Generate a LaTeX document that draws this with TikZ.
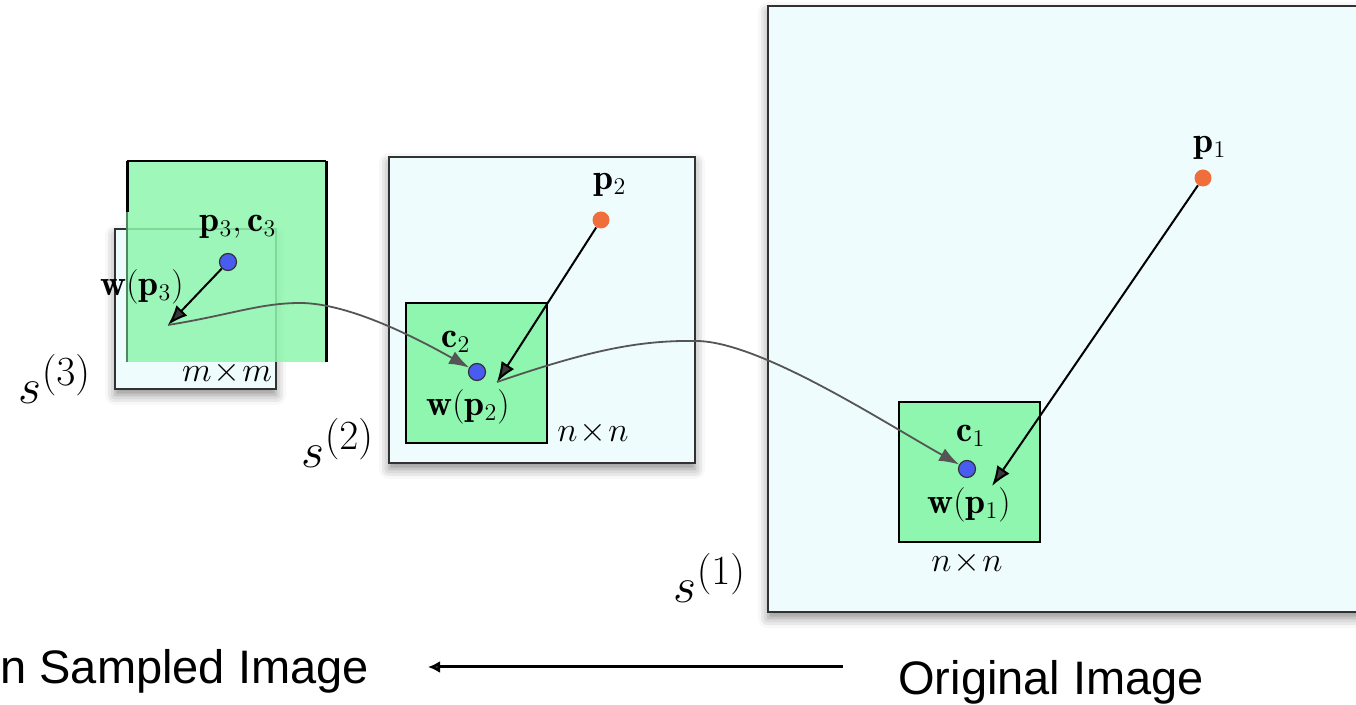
\documentclass[tikz,border=0pt]{standalone}
\usepackage{amsmath,amssymb}
\usepackage{fontspec}
\newfontfamily\arialfont{Liberation Sans}
\usepackage{xcolor}
\usetikzlibrary{arrows.meta,shadows.blur}

\definecolor{imgbg}{RGB}{238,252,254}
\definecolor{patchgreen}{RGB}{142,246,174}
\definecolor{ptblue}{RGB}{72,92,240}
\definecolor{ptorange}{RGB}{240,110,60}
\definecolor{flowgray}{RGB}{85,85,85}
\definecolor{framegray}{RGB}{50,50,50}

\begin{document}
\begin{tikzpicture}[x=0.5pt,y=-0.5pt,
  imgbox/.style={draw=framegray,line width=1pt,fill=imgbg,
    blur shadow={shadow xshift=0pt,shadow yshift=-3pt,shadow blur radius=5pt,shadow opacity=45}},
  patch/.style={draw=black,line width=0.8pt,fill=patchgreen},
  cdot/.style={circle,draw=black!80,line width=0.6pt,fill=ptblue,inner sep=0pt,minimum size=8.5pt},
  pdot/.style={circle,fill=ptorange,inner sep=0pt,minimum size=8.5pt},
  warp/.style={line width=1pt,-{Latex[length=10pt,width=7.5pt]}},
  flow/.style={flowgray,line width=0.9pt,-{Latex[length=10pt,width=7pt]}},
  lbl/.style={inner sep=0pt,font=\fontsize{18}{20}\selectfont},
  scalelbl/.style={inner sep=0pt,font=\fontsize{28}{30}\selectfont},
  txt/.style={inner sep=0pt,font=\arialfont\fontsize{23.5}{26}\selectfont}]
  \useasboundingbox (0,0) rectangle (1356,705);
  \clip (0,0) rectangle (1356,705);

  % image pyramid
  \draw[imgbox] (768,6) rectangle (1380,612);
  \draw[imgbox] (389,157) rectangle (695,463);
  \draw[imgbox] (115,229) rectangle (276,389);

  % patches
  \draw[patch] (899,402) rectangle (1040,542);
  \draw[patch] (406,303) rectangle (547,443);
  \fill[patchgreen,opacity=0.85] (127,161) rectangle (326,362);
  \draw[line width=0.9pt] (127,161) -- (326,161);
  \draw[line width=1.5pt] (127,212) -- (127,161);
  \draw[line width=1.5pt] (326,161) -- (326,362);
  \draw[patchgreen!55!black,line width=0.6pt] (127,212) -- (127,362);

  % points
  \node[pdot] (p1) at (1203,178) {};
  \node[pdot] (p2) at (601,220) {};
  \node[cdot] (c3) at (228,262) {};
  \node[cdot] (c2) at (477,372) {};
  \node[cdot] (c1) at (967,469) {};
  \coordinate (w1) at (992,486);
  \coordinate (w2) at (497,382);
  \coordinate (w3) at (168,325);

  % labels
  \node[lbl] (p1lbl) at (1210,148) {$\mathbf{p}_1$};
  \node[lbl] (c1lbl) at (971,436) {$\mathbf{c}_1$};
  \node[lbl] (w1lbl) at (969,505) {$\mathbf{w}(\mathbf{p}_1)$};
  \node[lbl] (n1lbl) at (967,563) {$n\!\times\! n$};
  \node[lbl] (p2lbl) at (610,185) {$\mathbf{p}_2$};
  \node[lbl] (c2lbl) at (456,342) {$\mathbf{c}_2$};
  \node[lbl] (w2lbl) at (468,407) {$\mathbf{w}(\mathbf{p}_2)$};
  \node[lbl] (n2lbl) at (593,433) {$n\!\times\! n$};
  \node[lbl] (c3lbl) at (238,227) {$\mathbf{p}_3,\mathbf{c}_3$};
  \node[lbl] (w3lbl) at (142,287) {$\mathbf{w}(\mathbf{p}_3)$};
  \node[lbl] (m3lbl) at (227,373) {$m\!\times\! m$};
  \node[scalelbl] (s3) at (55,379) {$s^{(3)}$};
  \node[scalelbl] (s2) at (338,443) {$s^{(2)}$};
  \node[scalelbl] (s1) at (710,578) {$s^{(1)}$};

  % warps and flows
  \draw[warp] (p1) -- (w1);
  \draw[warp] (p2) -- (w2);
  \draw[warp] (c3) -- (w3);
  \draw[flow] (w3) .. controls (230,315) and (260,303) .. (300,303)
    .. controls (350,303) and (420,340) .. (c2);
  \draw[flow] (w2) .. controls (590,350) and (640,340) .. (697,341)
    .. controls (760,342) and (880,420) .. (c1);

  % bottom caption
  \node[txt,anchor=base west] (down) at (0,683) {n Sampled Image};
  \node[txt,anchor=base west] (orig) at (898,695) {Original Image};
  \coordinate (arrS) at (843,667);
  \coordinate (arrE) at (428,667);
  \draw[line width=1.5pt,-{Latex[length=6pt,width=6pt]}] (arrS) -- (arrE);
\end{tikzpicture}
\end{document}
